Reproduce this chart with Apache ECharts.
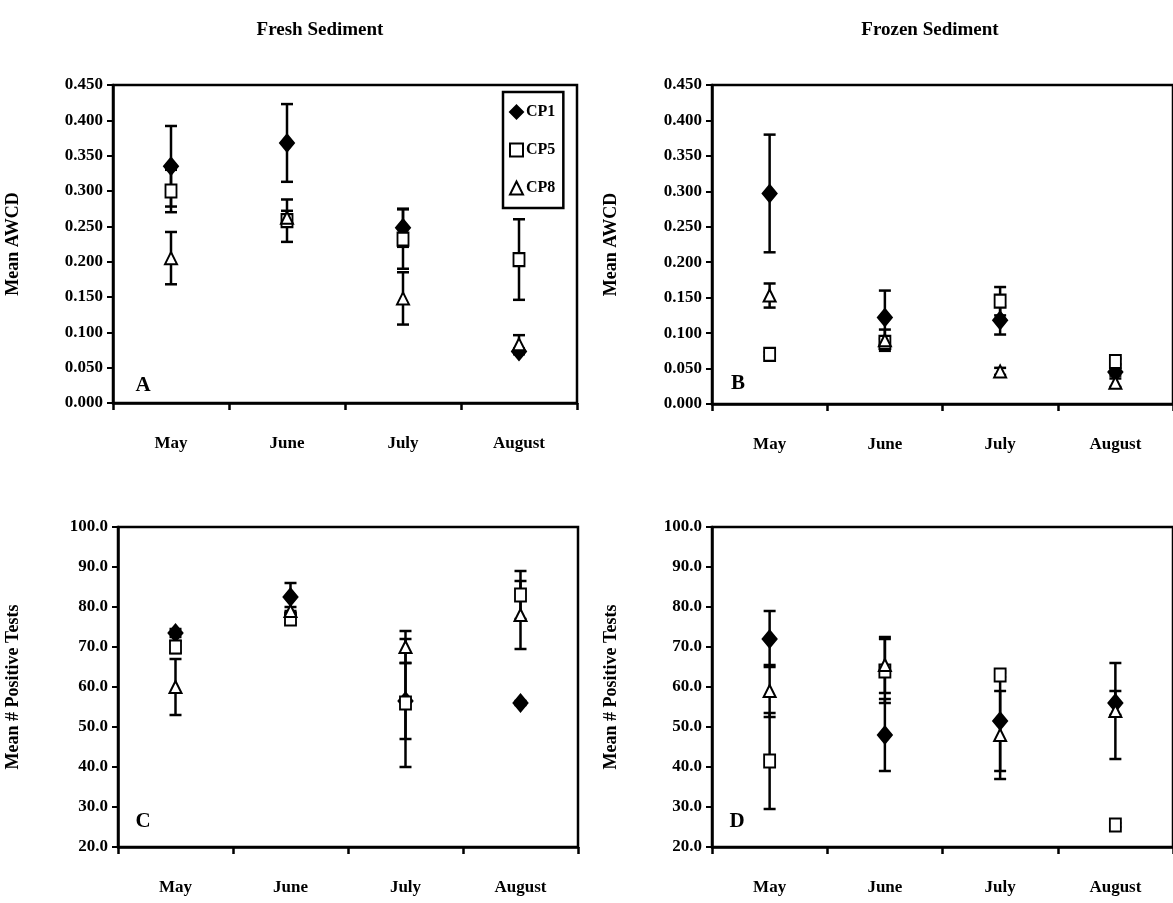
<!DOCTYPE html>
<html>
<head>
<meta charset="utf-8">
<script src="https://cdn.jsdelivr.net/npm/echarts@6/dist/echarts.min.js"></script>
<style>
html,body{margin:0;padding:0;background:#fff;}
#chart{width:1173px;height:903px;}
</style>
</head>
<body>
<div id="chart"></div>
<script>
// ---- data ----
const months = ['May', 'June', 'July', 'August'];
const seriesNames = ['CP1', 'CP5', 'CP8'];

// Panel A: Fresh sediment, Mean AWCD
const freshAwcdCP1 = [0.335, 0.368, 0.248, 0.073];
const freshAwcdCP1Err = [0.057, 0.055, 0.027, 0.004];
const freshAwcdCP5 = [0.300, 0.258, 0.232, 0.203];
const freshAwcdCP5Err = [0.030, 0.030, 0.042, 0.057];
const freshAwcdCP8 = [0.205, 0.262, 0.148, 0.083];
const freshAwcdCP8Err = [0.037, 0.010, 0.037, 0.013];

// Panel B: Frozen sediment, Mean AWCD
const frozenAwcdCP1 = [0.297, 0.122, 0.118, 0.045];
const frozenAwcdCP1Err = [0.083, 0.038, 0.020, 0.005];
const frozenAwcdCP5 = [0.070, 0.087, 0.145, 0.060];
const frozenAwcdCP5Err = [0.003, 0.005, 0.020, 0.004];
const frozenAwcdCP8 = [0.153, 0.090, 0.046, 0.030];
const frozenAwcdCP8Err = [0.017, 0.015, 0.005, 0.006];

// Panel C: Fresh sediment, Mean # Positive Tests
const freshTestsCP1 = [73.5, 82.5, 56.5, 56.0];
const freshTestsCP1Err = [1.0, 3.5, 9.5, 0.5];
const freshTestsCP5 = [70.0, 77.0, 56.0, 83.0];
const freshTestsCP5Err = [1.5, 1.0, 16.0, 6.0];
const freshTestsCP8 = [60.0, 79.0, 70.0, 78.0];
const freshTestsCP8Err = [7.0, 1.0, 4.0, 8.5];

// Panel D: Frozen sediment, Mean # Positive Tests
const frozenTestsCP1 = [72.0, 48.0, 51.5, 56.0];
const frozenTestsCP1Err = [7.0, 9.0, 12.5, 3.0];
const frozenTestsCP5 = [41.5, 64.0, 63.0, 25.5];
const frozenTestsCP5Err = [12.0, 8.0, 0.5, 0.5];
const frozenTestsCP8 = [59.0, 65.5, 48.0, 54.0];
const frozenTestsCP8Err = [6.5, 7.0, 11.0, 12.0];

const awcdAxis = {min: 0, max: 0.45, interval: 0.05, decimals: 3, name: 'Mean AWCD'};
const testsAxis = {min: 20, max: 100, interval: 10, decimals: 1, name: 'Mean # Positive Tests'};

const panelTitles = ['Fresh Sediment', 'Frozen Sediment'];
const panelLetters = ['A', 'B', 'C', 'D'];

// ---- layout / styles ----
const FONT = 'Liberation Serif';
const grids = [
  {left: 113, top: 85, width: 464, height: 318},
  {left: 712, top: 85, width: 461, height: 319},
  {left: 118, top: 527, width: 460, height: 320},
  {left: 712, top: 527, width: 461, height: 320}
];
const panels = [
  {axis: awcdAxis, vals: [freshAwcdCP1, freshAwcdCP5, freshAwcdCP8], errs: [freshAwcdCP1Err, freshAwcdCP5Err, freshAwcdCP8Err]},
  {axis: awcdAxis, vals: [frozenAwcdCP1, frozenAwcdCP5, frozenAwcdCP8], errs: [frozenAwcdCP1Err, frozenAwcdCP5Err, frozenAwcdCP8Err]},
  {axis: testsAxis, vals: [freshTestsCP1, freshTestsCP5, freshTestsCP8], errs: [freshTestsCP1Err, freshTestsCP5Err, freshTestsCP8Err]},
  {axis: testsAxis, vals: [frozenTestsCP1, frozenTestsCP5, frozenTestsCP8], errs: [frozenTestsCP1Err, frozenTestsCP5Err, frozenTestsCP8Err]}
];
const symbols = [
  {symbol: 'diamond', size: [14, 17], color: '#000', border: '#000'},
  {symbol: 'rect', size: [11, 13], color: '#fff', border: '#000'},
  {symbol: 'triangle', size: [12, 12], color: '#fff', border: '#000'}
];

const xAxes = [], yAxes = [], series = [];
panels.forEach((p, i) => {
  xAxes.push({
    type: 'category', gridIndex: i, data: months, boundaryGap: true,
    axisLine: {lineStyle: {color: '#000', width: 2.5}},
    axisTick: {show: true, length: 7, lineStyle: {color: '#000', width: 2.5}},
    axisLabel: {color: '#000', fontFamily: FONT, fontWeight: 'bold', fontSize: 17, margin: 32}
  });
  yAxes.push({
    type: 'value', gridIndex: i, min: p.axis.min, max: p.axis.max, interval: p.axis.interval,
    name: p.axis.name, nameLocation: 'middle', nameGap: (i % 2 === 0 ? grids[i].left - 22 : grids[i].left - 620),
    nameTextStyle: {color: '#000', fontFamily: FONT, fontWeight: 'bold', fontSize: 18},
    splitLine: {show: false},
    axisLine: {show: true, lineStyle: {color: '#000', width: 2.5}},
    axisTick: {show: true, length: 6, lineStyle: {color: '#000', width: 2}},
    axisLabel: {color: '#000', fontFamily: FONT, fontWeight: 'bold', fontSize: 17, margin: 10,
      formatter: v => v.toFixed(p.axis.decimals)}
  });
  // error bars
  seriesNames.forEach((nm, s) => {
    series.push({
      type: 'custom', xAxisIndex: i, yAxisIndex: i, silent: true, z: 2,
      data: p.vals[s].map((v, k) => [k, v, p.errs[s][k]]),
      renderItem: function (params, api) {
        const x = api.value(0), m = api.value(1), e = api.value(2);
        const top = api.coord([x, m + e]);
        const bot = api.coord([x, m - e]);
        const hw = 6;
        const st = {stroke: '#000', lineWidth: 2.5};
        return {type: 'group', children: [
          {type: 'line', shape: {x1: top[0], y1: top[1], x2: bot[0], y2: bot[1]}, style: st},
          {type: 'line', shape: {x1: top[0] - hw, y1: top[1], x2: top[0] + hw, y2: top[1]}, style: st},
          {type: 'line', shape: {x1: bot[0] - hw, y1: bot[1], x2: bot[0] + hw, y2: bot[1]}, style: st}
        ]};
      }
    });
  });
  // markers
  seriesNames.forEach((nm, s) => {
    series.push({
      name: nm, type: 'scatter', xAxisIndex: i, yAxisIndex: i, z: 3,
      symbol: symbols[s].symbol, symbolSize: symbols[s].size,
      itemStyle: {color: symbols[s].color, borderColor: symbols[s].border, borderWidth: 2, opacity: 1},
      data: p.vals[s].map((v, k) => [k, v])
    });
  });
});

const titleCenters = [320, 930];
const titleEls = panelTitles.map((t, i) => ({
  type: 'text', x: titleCenters[i], y: 30,
  style: {text: t, fill: '#000', font: 'bold 19px "' + FONT + '"', textAlign: 'center', textVerticalAlign: 'middle'}
}));
const letterPos = [[143, 386], [738, 384], [143, 822], [737, 822]];
const letterEls = panelLetters.map((L, i) => ({
  type: 'text', x: letterPos[i][0], y: letterPos[i][1],
  style: {text: L, fill: '#000', font: 'bold 21px "' + FONT + '"', textAlign: 'center', textVerticalAlign: 'middle'}
}));

const chart = echarts.init(document.getElementById('chart'), null, {renderer: 'canvas'});
chart.setOption({
  backgroundColor: '#fff',
  animation: false,
  grid: grids.map(g => Object.assign({show: true, borderColor: '#000', borderWidth: 2.5, backgroundColor: 'transparent'}, g)),
  xAxis: xAxes,
  yAxis: yAxes,
  legend: {
    data: seriesNames.map((n, s) => ({name: n, icon: symbols[s].symbol})),
    orient: 'vertical', left: 503, top: 92, width: 64,
    padding: [12, 8, 12, 6], itemGap: 22, itemWidth: 13, itemHeight: 13,
    borderColor: '#000', borderWidth: 2.5, backgroundColor: '#fff',
    selectedMode: false,
    textStyle: {color: '#000', fontFamily: FONT, fontWeight: 'bold', fontSize: 16, padding: [0, 0, 0, -2]}
  },
  graphic: titleEls.concat(letterEls),
  series: series
});
</script>
</body>
</html>
